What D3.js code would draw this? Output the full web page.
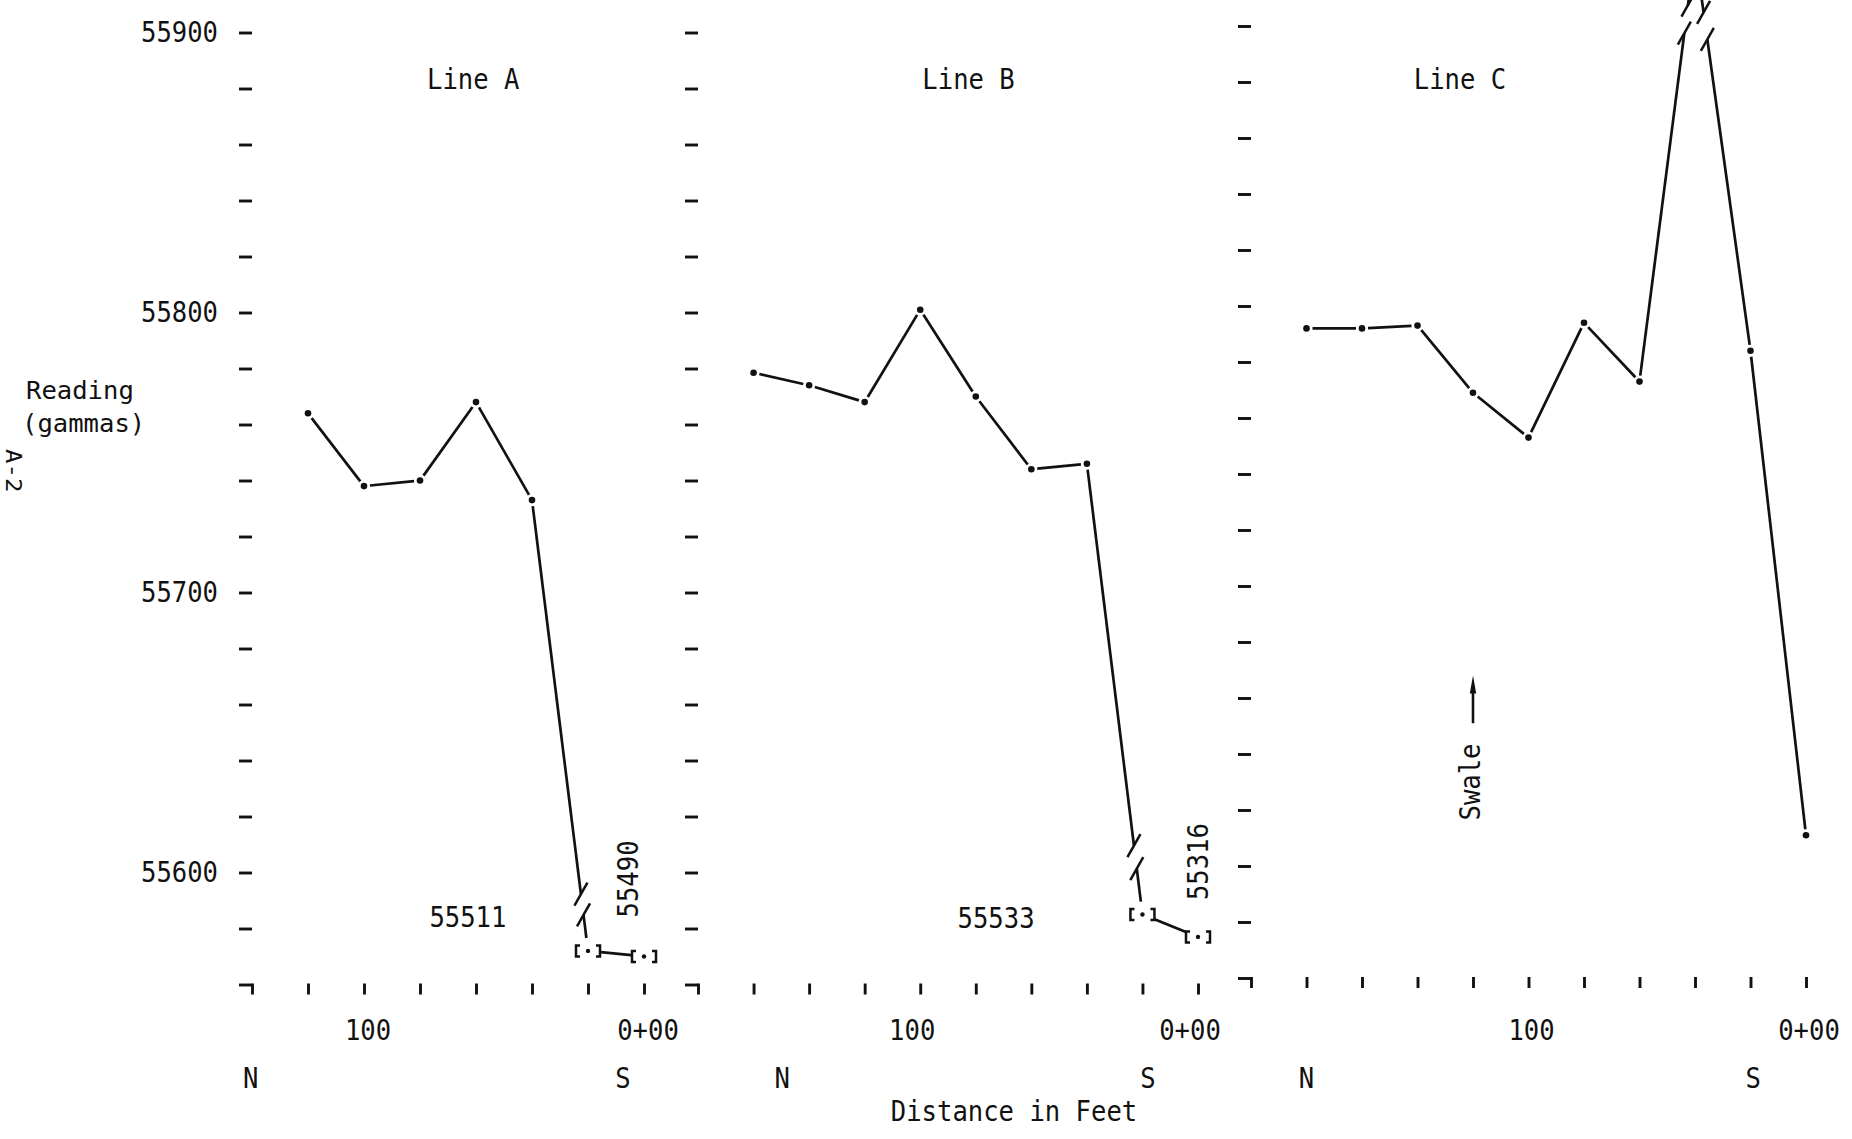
<!DOCTYPE html>
<html>
<head>
<meta charset="utf-8">
<script src="https://cdn.jsdelivr.net/npm/d3@7"></script>
<style>
  body { margin: 0; background: #fff; }
  text { font-family: "DejaVu Sans Mono", monospace; font-size: 29px; fill: #111; }
</style>
</head>
<body>
<div id="chart"></div>
<script>
// magnetometer readings (gammas) by station (feet from 0+00)
const yTickValues = d3.range(55900, 55559, -20);
const yLabelValues = [55900, 55800, 55700, 55600];
const xLabelFeet = [100, 0];
const xLabelText = ["100", "0+00"];

const lineAFeet = [120, 100, 80, 60, 40];
const lineAGammas = [55764, 55738, 55740, 55768, 55733];
const lineAOffFeet = [20, 0];
const lineAOffGammas = [55511, 55490];
const lineAOffPlotted = [55572, 55570]; // where the off-scale readings are drawn

const lineBFeet = [160, 140, 120, 100, 80, 60, 40];
const lineBGammas = [55778.5, 55774, 55768, 55801, 55770, 55744, 55746];
const lineBOffFeet = [20, 0];
const lineBOffGammas = [55533, 55316];
const lineBOffPlotted = [55585, 55577];

// 40 ft reading goes off the top of the sheet
const lineCFeet = [180, 160, 140, 120, 100, 80, 60, 40, 20, 0];
const lineCGammas = [55792, 55792, 55793, 55769, 55753, 55794, 55773, 55927, 55784, 55611];

const width = 1852,
  height = 1139,
  charW = 15.4; // typewriter pitch

const svg = d3
  .select("#chart")
  .append("svg")
  .attr("width", width)
  .attr("height", height);

const panels = [
  {
    title: "Line A", left: 140, xRange: [252, 644], yRange: [984.5, 32.5],
    feet: lineAFeet.concat(lineAOffFeet),
    gammas: lineAGammas.concat(lineAOffPlotted),
    bracketFrom: lineAFeet.length,
    hidden: [],
    breaks: { 4: [0.874, 0.92] },
    yLabels: true, titleFt: 61, labelDx: 4, nFt: 140.5, sFt: 7.5,
    notes: [
      { text: lineAOffGammas[0], ft: 62.9, g: 55580.5, rotate: false },
      { text: lineAOffGammas[1], ft: 2.1, g: 55597.7, rotate: true },
    ],
  },
  {
    title: "Line B", left: 180, xRange: [698, 1198], yRange: [984.5, 32.5],
    feet: lineBFeet.concat(lineBOffFeet),
    gammas: lineBGammas.concat(lineBOffPlotted),
    bracketFrom: lineBFeet.length,
    hidden: [],
    breaks: { 6: [0.847, 0.898] },
    yLabels: false, titleFt: 82.6, labelDx: -8, nFt: 149.7, sFt: 18,
    notes: [
      { text: lineBOffGammas[0], ft: 72.7, g: 55580.2, rotate: false },
      { text: lineBOffGammas[1], ft: -3.6, g: 55603.9, rotate: true },
    ],
  },
  {
    title: "Line C", left: 200, xRange: [1251, 1806], yRange: [978, 26],
    feet: lineCFeet,
    gammas: lineCGammas,
    bracketFrom: Infinity,
    hidden: [7],
    breaks: { 6: [0.808, 0.873], 7: [0.155, 0.2225] },
    yLabels: false, titleFt: 124.7, labelDx: 3, nFt: 180, sFt: 19,
    notes: [],
    swale: { ft: 120, from: 55651, to: 55668, textFt: 117.5, textG: 55630 },
  },
];

panels.forEach(drawPanel);

function drawPanel(p) {
  const x = d3.scaleLinear().domain([p.left, 0]).range(p.xRange);
  const y = d3.scaleLinear().domain([55560, 55900]).range(p.yRange);
  const g = svg.append("g");

  // y ticks (dashes), numbers only on the first panel
  const yAxis = g
    .append("g")
    .attr("transform", `translate(${p.xRange[0]},0)`)
    .call(
      d3.axisLeft(y)
        .tickValues(yTickValues)
        .tickSize(13)
        .tickPadding(21)
        .tickFormat((v) => (p.yLabels && yLabelValues.includes(v) ? v : ""))
    );
  styleAxis(yAxis);
  yAxis.selectAll("text").attr("dy", "0.3em");

  // x ticks along the bottom
  const xAxis = g
    .append("g")
    .attr("transform", `translate(0,${y(55560) - 1})`)
    .call(
      d3.axisBottom(x)
        .tickValues(d3.range(0, p.left + 1, 20))
        .tickSize(11)
        .tickFormat("")
    );
  styleAxis(xAxis);

  g.selectAll(".xlab")
    .data(xLabelFeet)
    .join("text")
    .attr("x", (d) => x(d) + p.labelDx)
    .attr("y", 1040)
    .attr("text-anchor", "middle")
    .text((d, i) => xLabelText[i]);

  g.append("text").attr("x", x(p.nFt)).attr("y", 1088).attr("text-anchor", "middle").text("N");
  g.append("text").attr("x", x(p.sFt)).attr("y", 1088).attr("text-anchor", "middle").text("S");

  g.append("text")
    .attr("x", x(p.titleFt))
    .attr("y", 89)
    .attr("text-anchor", "middle")
    .text(p.title);

  // profile line
  const pts = p.feet.map((f, i) => [x(f), y(p.gammas[i])]);
  const trim = (i) => (i >= p.bracketFrom ? 13 : p.hidden.includes(i) ? 0 : 6);
  for (let i = 0; i < pts.length - 1; i++) {
    drawSegment(g, pts[i], pts[i + 1], trim(i), trim(i + 1), p.breaks[i]);
  }

  g.selectAll(".pt")
    .data(pts.filter((d, i) => i < p.bracketFrom && !p.hidden.includes(i)))
    .join("circle")
    .attr("cx", (d) => d[0])
    .attr("cy", (d) => d[1])
    .attr("r", 3.3)
    .attr("fill", "#111");

  // off-scale readings drawn as [•]
  pts.slice(p.bracketFrom).forEach(([cx, cy]) => {
    g.append("path")
      .attr("d", `M${cx - 8},${cy - 5.5}H${cx - 12}V${cy + 5.5}H${cx - 8}M${cx + 8},${cy - 5.5}H${cx + 12}V${cy + 5.5}H${cx + 8}`)
      .attr("fill", "none")
      .attr("stroke", "#111")
      .attr("stroke-width", 2.5);
    g.append("circle").attr("cx", cx).attr("cy", cy).attr("r", 2.2).attr("fill", "#111");
  });

  p.notes.forEach((n) => {
    const t = g.append("text").attr("text-anchor", "middle").text(n.text);
    if (n.rotate) t.attr("transform", `translate(${x(n.ft)},${y(n.g)}) rotate(-90)`);
    else t.attr("x", x(n.ft)).attr("y", y(n.g));
  });

  if (p.swale) {
    const s = p.swale,
      ax = x(s.ft),
      y0 = y(s.from),
      y1 = y(s.to);
    g.append("line")
      .attr("x1", ax).attr("x2", ax)
      .attr("y1", y0).attr("y2", y1 + 10)
      .attr("stroke", "#111")
      .attr("stroke-width", 2.6);
    g.append("path")
      .attr("d", `M${ax},${y1}L${ax + 3.2},${y1 + 18}L${ax - 3.2},${y1 + 18}Z`)
      .attr("fill", "#111");
    g.append("text")
      .attr("text-anchor", "middle")
      .attr("transform", `translate(${x(s.textFt)},${y(s.textG)}) rotate(-90)`)
      .text("Swale");
  }
}

function styleAxis(sel) {
  sel.select(".domain").remove();
  sel.attr("font-family", null).attr("font-size", null);
  sel.selectAll("line").attr("stroke", "#111").attr("stroke-width", 2.9);
  sel.selectAll("text").attr("fill", "#111");
}

function drawSegment(g, a, b, trimA, trimB, gap) {
  const dx = b[0] - a[0],
    dy = b[1] - a[1],
    len = Math.hypot(dx, dy);
  const at = (t) => [a[0] + dx * t, a[1] + dy * t];
  const t0 = trimA / len,
    t1 = 1 - trimB / len;
  const parts = gap ? [[t0, gap[0]], [gap[1], t1]] : [[t0, t1]];
  parts.forEach(([u, v]) => {
    const s = at(u),
      e = at(v);
    g.append("line")
      .attr("x1", s[0]).attr("y1", s[1])
      .attr("x2", e[0]).attr("y2", e[1])
      .attr("stroke", "#111")
      .attr("stroke-width", 2.7);
  });
  if (gap) {
    gap.forEach((t) => {
      const c = at(t);
      g.append("line")
        .attr("x1", c[0] - 6.5).attr("y1", c[1] + 11.5)
        .attr("x2", c[0] + 6.5).attr("y2", c[1] - 11.5)
        .attr("stroke", "#111")
        .attr("stroke-width", 2.5);
    });
  }
}

// side labels (two lines of the axis title, kept apart)
svg.append("text").attr("x", 26).attr("y", 399).style("font-size", "25px").text("Reading");
svg.append("text").attr("x", 22).attr("y", 432).style("font-size", "25px").text("(gammas)");
svg.append("text")
  .attr("class", "small")
  .attr("transform", "translate(6,449) rotate(90)")
  .style("font-size", "21px")
  .text("A-2");

svg.append("text")
  .attr("x", 1014)
  .attr("y", 1121)
  .attr("text-anchor", "middle")
  .text("Distance in Feet");

// squeeze the glyphs to the narrow typewriter pitch
svg.selectAll("text")
  .filter(function () { return this.textContent.length > 0; })
  .attr("textLength", function () {
    const w = this.classList.contains("small") ? 14.5 : charW;
    return this.textContent.length * w;
  })
  .attr("lengthAdjust", "spacingAndGlyphs");
</script>
</body>
</html>
